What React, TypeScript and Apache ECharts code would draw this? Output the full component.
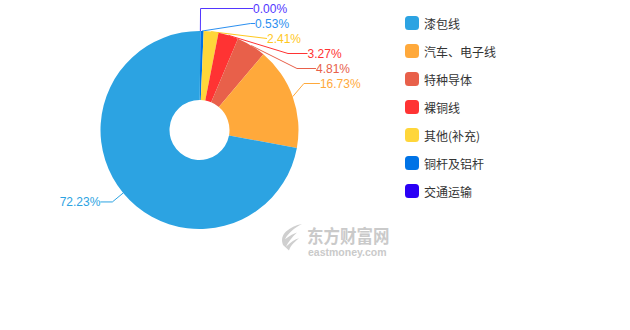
import React, { useEffect, useRef } from "react";
import * as echarts from "echarts";

const categories = ["漆包线", "汽车、电子线", "特种导体", "裸铜线", "其他(补充)", "铜杆及铝杆", "交通运输"];
const values = [72.23, 16.73, 4.81, 3.27, 2.41, 0.53, 0.0];
const colors = ["#2ca3e2", "#ffa93b", "#e8604a", "#ff3333", "#ffd63a", "#0073e6", "#2a00f5"];
const labelColors = ["#2ca3e2", "#ffa93b", "#e8604a", "#ff3333", "#ffc81e", "#2b8ff0", "#5236ff"];
const lineLengths = [14, 14, 14, 4, 2, 7, 22];
const lineLengths2 = [12, 16, 19, 28, 1, 4.5, 52.5];

const logoPath =
  "M22 0 C14 4 8 10 5 16 C10 12 14 10 17 9 C12 14 8 19 6 24 C11 19 15 16 19 15 C13 20 10 24 9 28 L3 22 C1 17 2 12 6 8 C10 4 16 1 22 0 Z";

export default function App() {
  const ref = useRef<HTMLDivElement>(null);
  useEffect(() => {
    if (!ref.current) return;
    echarts.graphic.registerShape("logo", echarts.graphic.extendPath(logoPath, {}) as any);
    const chart = echarts.init(ref.current, undefined, { renderer: "svg" });
    const font = '"Liberation Sans", Arial, "Noto Sans CJK SC", sans-serif';
    const data = categories
      .map((name, i) => ({
        name,
        value: values[i],
        itemStyle: { color: colors[i] },
        label: { color: labelColors[i] },
        labelLine: {
          length: lineLengths[i],
          length2: lineLengths2[i],
          lineStyle: { color: labelColors[i] },
        },
      }))
      .reverse();
    chart.setOption({
      animation: false,
      color: colors,
      textStyle: { fontFamily: font },
      legend: {
        orient: "vertical",
        left: 400,
        top: 11,
        itemWidth: 14,
        itemHeight: 14,
        itemGap: 14,
        icon: "roundRect",
        data: categories,
        textStyle: { fontSize: 12, color: "#333", fontFamily: '"Noto Sans CJK SC", sans-serif' },
      },
      graphic: [
        {
          type: "logo",
          x: 280,
          y: 224,
          scaleX: 1,
          scaleY: 0.95,
          style: { fill: "#cfcfcf" },
          silent: true,
        },
        {
          type: "text",
          x: 307,
          y: 226,
          scaleY: 1.1,
          style: {
            text: "东方财富网",
            fill: "#cacaca",
            font: 'bold 16.5px "Noto Sans CJK SC", sans-serif',
          },
          silent: true,
        },
        {
          type: "text",
          x: 308,
          y: 246,
          style: {
            text: "eastmoney.com",
            fill: "#cacaca",
            font: 'bold 10.5px "Liberation Sans", sans-serif',
          },
          silent: true,
        },
      ],
      series: [
        {
          type: "pie",
          left: 0,
          top: 0,
          width: 630,
          height: 93,
          center: [199.5, 130],
          radius: [30, 99],
          startAngle: 89.5,
          clockwise: true,
          data,
          label: {
            show: true,
            fontSize: 12,
            lineHeight: 15,
            fontFamily: font,
            distanceToLabelLine: 0,
            formatter: (p: any) => Number(p.value).toFixed(2) + "%",
          },
          labelLine: { show: true, length: 14, length2: 12 },
          emphasis: { scale: false },
        },
      ],
    });
    return () => chart.dispose();
  }, []);
  return (
    <div
      ref={ref}
      style={{ position: "absolute", left: 0, top: 0, width: 630, height: 330 }}
    />
  );
}
